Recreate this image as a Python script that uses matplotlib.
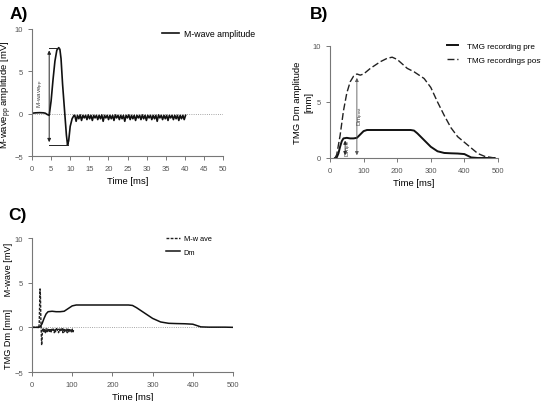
import numpy as np
import matplotlib
matplotlib.use("Agg")
import matplotlib.pyplot as plt

# ---------------- data ----------------
# Panel A: M-wave
a_t_main = [0, 1, 2, 3, 3.5, 4, 4.5, 5, 5.5, 6, 6.5, 7, 7.3, 7.6, 8, 8.5, 9, 9.3, 9.6, 10, 10.5, 11]
a_v_main = [0.05, 0.1, 0.12, 0.1, 0.05, -0.1, -0.2, 1.5, 4.0, 6.2, 7.5, 7.8, 7.6, 6.5, 3.5, 0.5, -2.5, -3.7, -3.2, -1.5, -0.6, -0.2]
a_noise = [-0.2, -0.9, -0.2, -0.6, -0.15, -0.8, -0.2, -0.5, -0.2, -0.7, -0.15, -0.6, -0.2, -0.8,
           -0.2, -0.5, -0.2, -0.7, -0.2, -0.6, -0.15, -0.9, -0.2, -0.5, -0.2, -0.7, -0.2, -0.6,
           -0.2, -0.8, -0.15, -0.5, -0.2, -0.7, -0.2, -0.6, -0.2, -0.9, -0.2, -0.5, -0.15, -0.7,
           -0.2, -0.6, -0.2, -0.8, -0.2, -0.5, -0.2, -0.7, -0.15, -0.6, -0.2, -0.8, -0.2, -0.5,
           -0.2, -0.7, -0.2, -0.6, -0.2, -0.9, -0.15, -0.5, -0.2, -0.7, -0.2, -0.6, -0.2, -0.8,
           -0.2, -0.5, -0.2, -0.7, -0.2, -0.6, -0.2, -0.8, -0.2, -0.6, -0.2, -0.7, -0.2]
a_noise_t0, a_noise_t1 = 11.2, 40.2

# Panel B: TMG displacement
b_pre_t = [15, 20, 25, 30, 35, 40, 50, 60, 70, 80, 90, 100, 110, 130, 160, 200, 240, 250, 260, 280,
           300, 320, 340, 360, 380, 400, 410, 420, 440, 460, 480, 490]
b_pre_v = [0, 0.05, 0.4, 1.0, 1.5, 1.75, 1.8, 1.75, 1.75, 1.8, 2.1, 2.4, 2.5, 2.5, 2.5, 2.5, 2.5, 2.45, 2.2, 1.6,
           1.0, 0.6, 0.45, 0.42, 0.4, 0.35, 0.2, 0.05, 0.0, 0.0, 0.0, 0.0]
b_post_t = [15, 20, 30, 40, 50, 60, 70, 80, 90, 100, 120, 150, 170, 185, 200, 215, 230, 250, 280, 300,
            320, 340, 360, 380, 400, 420, 440, 460, 480, 490]
b_post_v = [0, 0.3, 2.0, 4.2, 5.8, 6.8, 7.3, 7.5, 7.4, 7.5, 8.0, 8.6, 8.9, 9.0, 8.8, 8.4, 8.0, 7.7, 7.1, 6.3,
            5.0, 3.8, 2.7, 1.9, 1.4, 0.9, 0.4, 0.15, 0.05, 0.0]

# Panel C: combined
c_mw_t = [0, 10, 15, 17, 18, 19, 20, 21, 22, 23, 24, 25, 26, 27, 28, 29]
c_mw_v = [0, 0, 0, -0.1, 0.5, 2.5, 4.3, 3.5, 1.0, -0.5, -2.0, -1.2, -0.3, -0.2, -0.4, -0.2]
c_mw_noise = [-0.5, -0.2, -0.6, -0.15, -0.5, -0.2, -0.4, -0.2, -0.6, -0.15, -0.5, -0.2, -0.4, -0.2,
              -0.6, -0.2, -0.5, -0.15, -0.4, -0.2, -0.6, -0.2, -0.5, -0.2, -0.4, -0.15, -0.6, -0.2,
              -0.5, -0.2, -0.4, -0.2, -0.6, -0.2, -0.5, -0.15, -0.4, -0.2, -0.6, -0.2, -0.5, -0.2]
c_mw_noise_t0, c_mw_noise_t1 = 30, 104
c_dm_t = [0, 10, 15, 20, 25, 30, 35, 40, 50, 60, 70, 80, 90, 100, 110, 130, 160, 200, 240, 250, 260, 280,
          300, 320, 340, 360, 380, 400, 410, 420, 440, 460, 480, 500]
c_dm_v = [0, 0, 0, 0.05, 0.4, 1.0, 1.5, 1.75, 1.8, 1.75, 1.75, 1.8, 2.1, 2.4, 2.5, 2.5, 2.5, 2.5, 2.5, 2.45, 2.2, 1.6,
          1.0, 0.6, 0.45, 0.42, 0.4, 0.35, 0.2, 0.05, 0.02, 0.02, 0.02, 0.0]

# ---------------- figure ----------------
W, H = 541, 402
fig = plt.figure(figsize=(W / 100, H / 100), dpi=100)
plt.rcParams['font.family'] = ['Liberation Sans', 'DejaVu Sans']
plt.rcParams['mathtext.fontset'] = 'custom'
plt.rcParams['mathtext.rm'] = 'Liberation Sans'
plt.rcParams['mathtext.it'] = 'Liberation Sans'
plt.rcParams['mathtext.default'] = 'regular'

def px_axes(l, r, t, b):
    return fig.add_axes([l / W, 1 - b / H, (r - l) / W, (b - t) / H])

def fig_pt(x, y):
    return (x / W, 1 - y / H)

tick_col = '#555555'
def style(ax):
    for s in ['top', 'right']:
        ax.spines[s].set_visible(False)
    for s in ['left', 'bottom']:
        ax.spines[s].set_color('#777777')
        ax.spines[s].set_linewidth(0.8)
    ax.tick_params(labelsize=5.5, colors='#777777', labelcolor=tick_col, length=3, width=0.7, direction='out')

lab_fs = 6.8

# Panel A
axA = px_axes(32, 223, 30, 157)
style(axA)
a_nt = np.linspace(a_noise_t0, a_noise_t1, len(a_noise))
tA = list(a_t_main) + list(a_nt)
vA = list(a_v_main) + list(a_noise)
axA.axhline(0, color='#888888', lw=0.6, ls=':')
lA, = axA.plot(tA, vA, color='#111111', lw=1.2, label='M-wave amplitude')
axA.annotate('', xy=(4.5, 7.8), xytext=(4.5, -3.7),
             arrowprops=dict(arrowstyle='<|-|>', color='#222222', lw=0.7, mutation_scale=5))
axA.plot([4.5, 7.0], [7.8, 7.8], color='#222222', lw=0.7)
axA.plot([4.5, 9.3], [-3.7, -3.7], color='#222222', lw=0.7)
axA.text(2.2, 2.5, 'M-wave$_{pp}$', rotation=90, fontsize=4.5, color='#444444', ha='center', va='center')
axA.set_xlim(0, 50)
axA.set_ylim(-5, 10)
axA.set_xticks(range(0, 51, 5))
axA.set_yticks([-5, 0, 5, 10])
axA.set_xlabel('Time [ms]', fontsize=lab_fs, labelpad=3)
axA.set_ylabel('M-wave$_{pp}$ amplitude [mV]', fontsize=lab_fs)
axA.yaxis.set_label_coords(-0.095, 0.49)
fig.legend(handles=[lA], loc='upper left', bbox_to_anchor=fig_pt(162, 30),
           bbox_transform=fig.transFigure, fontsize=6.3, frameon=False, handlelength=1.95,
           handletextpad=0.6, borderaxespad=0, borderpad=0)
fig.text(10 / W, 1 - 15 / H, 'A)', fontsize=12.5, fontweight='bold', va='center')

# Panel B
axB = px_axes(330, 498, 47, 159)
style(axB)
lpre, = axB.plot(b_pre_t, b_pre_v, color='#111111', lw=1.4, label='TMG recording pre')
lpost, = axB.plot(b_post_t, b_post_v, color='#222222', lw=1.0, ls=(0, (5, 2)), label='TMG recordings post')
axB.annotate('', xy=(45, 1.8), xytext=(45, 0),
             arrowprops=dict(arrowstyle='<|-|>', color='#222222', lw=0.6, mutation_scale=5))
axB.annotate('', xy=(80, 7.4), xytext=(80, 0),
             arrowprops=dict(arrowstyle='<|-|>', color='#555555', lw=0.6, mutation_scale=5))
axB.text(57, 1.0, 'Dm$_{pre}$', rotation=90, fontsize=4.5, color='#444444', ha='center', va='center')
axB.text(92, 3.8, 'Dm$_{post}$', rotation=90, fontsize=4.5, color='#444444', ha='center', va='center')
axB.set_xlim(0, 500)
axB.set_ylim(0, 10)
axB.set_xticks(range(0, 501, 100))
axB.set_yticks([0, 5, 10])
axB.set_xlabel('Time [ms]', fontsize=lab_fs, labelpad=3)
axB.set_ylabel('TMG Dm amplitude\n[mm]', fontsize=lab_fs, linespacing=1.35)
axB.yaxis.set_label_coords(-0.1, 0.5)
fig.legend(handles=[lpre, lpost], loc='upper left', bbox_to_anchor=fig_pt(447, 43),
           bbox_transform=fig.transFigure, fontsize=5.9, frameon=False, handlelength=1.4,
           handletextpad=1.0, borderaxespad=0, borderpad=0, labelspacing=0.75)
fig.text(310 / W, 1 - 15 / H, 'B)', fontsize=12.5, fontweight='bold', va='center')

# Panel C
axC = px_axes(32, 233, 239, 373)
style(axC)
c_nt = np.linspace(c_mw_noise_t0, c_mw_noise_t1, len(c_mw_noise))
tC = list(c_mw_t) + list(c_nt)
vC = list(c_mw_v) + list(c_mw_noise)
axC.axhline(0, color='#888888', lw=0.6, ls=':')
lmw, = axC.plot(tC, vC, color='#222222', lw=1.0, ls=(0, (2, 1)), label='M-w ave')
ldm, = axC.plot(c_dm_t, c_dm_v, color='#111111', lw=1.1, label='Dm')
axC.set_xlim(0, 500)
axC.set_ylim(-5, 10)
axC.set_xticks(range(0, 501, 100))
axC.set_yticks([-5, 0, 5, 10])
axC.set_xlabel('Time [ms]', fontsize=lab_fs, labelpad=3)
axC.set_ylabel('TMG Dm [mm]     M-wave [mV]', fontsize=6.6)
axC.yaxis.set_label_coords(-0.095, 0.5)
fig.legend(handles=[lmw, ldm], loc='upper left', bbox_to_anchor=fig_pt(166, 236),
           bbox_transform=fig.transFigure, fontsize=5.3, frameon=False, handlelength=1.9,
           handletextpad=0.5, borderaxespad=0, borderpad=0, labelspacing=0.9)
fig.text(8 / W, 1 - 216 / H, 'C)', fontsize=12.5, fontweight='bold', va='center')

fig.savefig('out.png', dpi=100)
